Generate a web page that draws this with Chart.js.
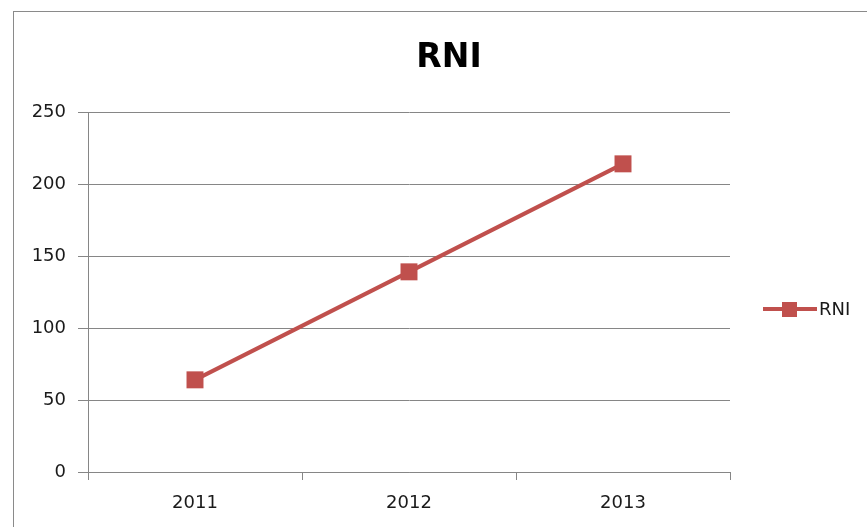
<!DOCTYPE html>
<html>
<head>
<meta charset="utf-8">
<script src="https://cdn.jsdelivr.net/npm/chart.js@4/dist/chart.umd.min.js"></script>
<style>
  html, body { margin: 0; padding: 0; background: #ffffff; }
  #wrap { width: 867px; height: 527px; }
</style>
</head>
<body>
<div id="wrap"><canvas id="chart" width="867" height="527"></canvas></div>
<script>
const chartTitle = "RNI";
const years = ["2011", "2012", "2013"];
const rniValues = [64, 139, 214];
const yMin = 0;
const yMax = 250;
const yStep = 50;

const lineColor = "#c0504d";
const gridColor = "#868686";
const textColor = "#1a1a1a";

// frame, title and legend (Excel style)
const decorations = {
  id: "decorations",
  beforeDraw(chart) {
    const ctx = chart.ctx;
    ctx.save();
    ctx.strokeStyle = "#8a8a8a";
    ctx.lineWidth = 1;
    ctx.strokeRect(13.5, 11.5, 900, 600);
    ctx.restore();
  },
  afterDraw(chart) {
    const ctx = chart.ctx;
    const ds = chart.data.datasets[0];
    ctx.save();
    ctx.fillStyle = "#000000";
    ctx.font = "bold 33px 'DejaVu Sans'";
    ctx.textAlign = "center";
    ctx.textBaseline = "alphabetic";
    ctx.fillText(chartTitle, 449, 67);

    // legend
    const ly = 309;
    ctx.strokeStyle = lineColor;
    ctx.lineWidth = 4;
    ctx.beginPath();
    ctx.moveTo(763, ly);
    ctx.lineTo(817, ly);
    ctx.stroke();
    ctx.fillStyle = lineColor;
    ctx.fillRect(782, ly - 7, 15, 15);
    ctx.fillStyle = textColor;
    ctx.font = "18px 'DejaVu Sans'";
    ctx.textAlign = "left";
    ctx.textBaseline = "middle";
    ctx.fillText(ds.label, 819, ly + 1);
    ctx.restore();
  }
};

new Chart(document.getElementById("chart"), {
  type: "line",
  data: {
    labels: years,
    datasets: [
      {
        label: "RNI",
        data: rniValues,
        borderColor: lineColor,
        backgroundColor: lineColor,
        borderWidth: 4,
        pointStyle: "rect",
        pointRadius: 12,
        pointHoverRadius: 12,
        pointBorderWidth: 0,
        tension: 0,
      },
    ],
  },
  options: {
    responsive: false,
    animation: false,
    layout: {
      padding: { top: 112, right: 137, bottom: 0, left: 0 },
    },
    plugins: {
      title: { display: false },
      legend: { display: false },
      tooltip: { enabled: false },
    },
    scales: {
      x: {
        offset: true,
        afterFit(scale) { scale.height = 55; },
        grid: {
          offset: true,
          drawOnChartArea: false,
          drawTicks: true,
          tickLength: 8,
          color: gridColor,
        },
        border: { color: gridColor },
        ticks: {
          color: textColor,
          font: { family: "DejaVu Sans", size: 18 },
          padding: 13,
        },
      },
      y: {
        min: yMin,
        max: yMax,
        afterFit(scale) { scale.width = 88; },
        grid: {
          color: gridColor,
          tickLength: 10,
        },
        border: { color: gridColor },
        ticks: {
          stepSize: yStep,
          color: textColor,
          font: { family: "DejaVu Sans", size: 18 },
          padding: 12,
        },
      },
    },
  },
  plugins: [decorations],
});
</script>
</body>
</html>
